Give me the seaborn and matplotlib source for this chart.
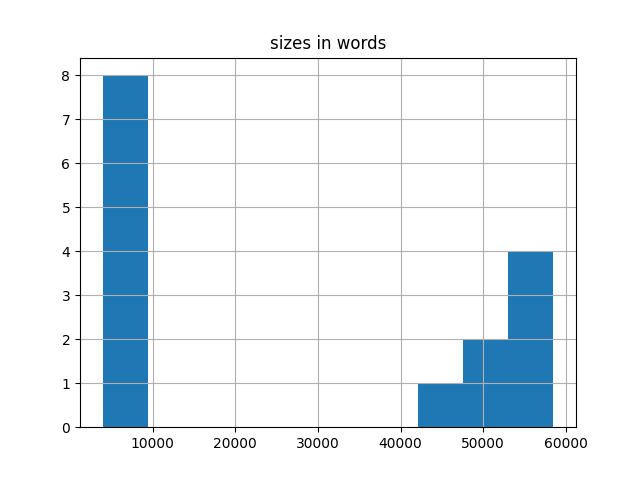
import pandas as pd
import seaborn as sns
import matplotlib.pyplot as plt

# word counts per document
sizes = [3930, 4500, 5200, 6000, 6800, 7400, 8100, 9000,
         45000,
         49000, 51500,
         54000, 55500, 57000, 58500]

df = pd.DataFrame({'sizes in words': sizes})

fig, ax = plt.subplots(figsize=(6.4, 4.8), dpi=100)
sns.histplot(data=df, x='sizes in words', bins=10, ax=ax,
             color='#1f77b4', alpha=1, edgecolor='none', linewidth=0)
ax.grid(True)
ax.set_title('sizes in words')
ax.set_xlabel('')
ax.set_ylabel('')
plt.savefig('out.png')
